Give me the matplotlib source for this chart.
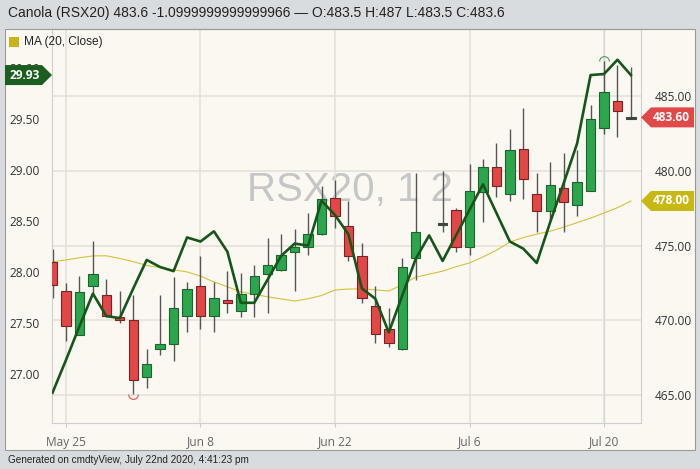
import numpy as np
import pandas as pd
import matplotlib
matplotlib.use("Agg")
import matplotlib.pyplot as plt
from matplotlib.patches import Rectangle, Polygon
from matplotlib.path import Path
from matplotlib.transforms import IdentityTransform

# trading days shown (weekdays), Jul 1 has no canola bar
days = pd.bdate_range("2020-05-22", "2020-07-22")
nan = np.nan

opens = [473.9, 472.0, 469.0, 472.3, 471.7, 470.2, 470.0, 466.2, 468.1, 468.4, 470.3,
         472.3, 470.3, 471.4, 470.6, 471.8, 473.1, 473.4, 474.6, 474.9, 475.8,
         478.2, 476.3, 474.3, 471.0, 469.4, 468.1, 474.2, nan, 476.4, 477.4,
         474.9, 478.6, 480.3, 478.5, 481.5, 478.5, 477.3, 478.9, 477.7, 478.7,
         482.9, 484.7, 483.5]
highs = [474.8, 472.5, 473.0, 475.3, 472.8, 472.0, 471.7, 468.1, 471.7, 472.9, 472.6,
         474.3, 472.6, 473.3, 473.2, 473.7, 475.5, 475.8, 476.1, 477.2, 479.0,
         479.4, 478.0, 475.2, 472.3, 470.8, 474.2, 479.9, nan, 480.0, 477.5,
         480.5, 480.8, 481.9, 482.8, 484.2, 479.9, 480.6, 481.2, 481.4, 484.4,
         487.4, 487.1, 487.0]
lows = [471.5, 468.6, 469.0, 471.8, 470.2, 469.8, 465.1, 465.5, 467.7, 467.3, 469.2,
        469.4, 469.2, 470.5, 470.2, 470.2, 470.5, 473.3, 472.0, 474.4, 475.7,
        476.2, 474.0, 471.2, 468.5, 468.2, 468.0, 472.7, nan, 475.9, 474.6,
        474.4, 476.6, 478.3, 478.0, 478.1, 475.9, 476.7, 475.9, 477.0, 478.7,
        482.5, 482.3, 483.5]
closes = [472.4, 469.6, 471.9, 473.1, 470.3, 470.0, 466.0, 467.1, 468.4, 470.8, 472.1,
          470.3, 471.5, 471.2, 471.8, 473.0, 473.7, 474.4, 474.9, 475.8, 478.1,
          477.0, 474.3, 471.5, 469.1, 468.5, 473.6, 475.9, nan, 476.4, 474.9,
          478.7, 480.3, 479.0, 481.4, 479.5, 477.3, 479.1, 477.9, 479.3, 483.5,
          485.3, 484.0, 483.6]
ma20 = [473.93, 474.05, 474.2, 474.32, 474.33, 474.15, 473.94, 473.68, 473.54, 473.39, 473.25,
        472.97, 472.58, 472.25, 471.92, 471.75, 471.58, 471.44, 471.3, 471.45, 471.67,
        472.04, 472.1, 472.12, 472.05, 471.97, 472.4, 472.9, nan, 473.3, 473.6,
        473.85, 474.25, 474.7, 475.25, 475.55, 475.78, 475.98, 476.25, 476.55, 476.85,
        477.2, 477.55, 478.0]
# left-axis series (dark green line)
left_line = [26.82, 27.14, 27.47, 27.79, 27.57, 27.55, 27.84, 28.12, 28.05, 28.01, 28.34,
             28.30, 28.40, 28.20, 27.70, 27.70, 27.93, 28.16, 28.28, 28.26, 28.70,
             28.56, 28.37, 27.84, 27.74, 27.41, 27.77, 28.13, 28.36, 28.11, 28.36,
             28.61, 28.86, 28.58, 28.30, 28.23, 28.09, 28.49, 28.87, 29.26, 29.93,
             29.94, 30.08, 29.93]

tick_dates = ["2020-05-25", "2020-06-08", "2020-06-22", "2020-07-06", "2020-07-20"]
tick_labels = ["May 25", "Jun 8", "Jun 22", "Jul 6", "Jul 20"]
title = "Canola (RSX20) 483.6 -1.0999999999999966 \u2014 O:483.5 H:487 L:483.5 C:483.6"
footer = "Generated on cmdtyView, July 22nd 2020, 4:41:23 pm"

o = np.array(opens); h = np.array(highs); l = np.array(lows); c = np.array(closes)
ma = np.array(ma20)
x = np.arange(len(days))

cream = "#fbf8f2"
fig = plt.figure(figsize=(7, 4.69), dpi=100, facecolor="#d9dcdf")
W, H = 700, 469
fig.patches.append(Rectangle((5 / W, 1 - 450 / H), 690 / W, 421 / H, transform=fig.transFigure,
                             facecolor=cream, edgecolor="#9a9a9a", lw=0.8, zorder=-1))

ax = fig.add_axes([52 / W, 1 - 423 / H, 589 / W, 394 / H])
ax.patch.set_visible(False)
ax.set_xlim(-0.04, 43.75)
ax.set_ylim(463.13, 489.52)

# candles (dojis drawn dark)
ok = ~np.isnan(o)
doji = ok & (np.abs(c - o) < 0.15)
up = ok & (c >= o) & ~doji
dn = ok & (c < o) & ~doji
ax.vlines(x[ok], l[ok], h[ok], color="#555555", lw=1.0, zorder=2)
body = np.maximum(np.abs(c - o), 0.1)
bot = np.minimum(o, c)
ax.bar(x[up], body[up], bottom=bot[up], width=0.7, color="#2ca64c", edgecolor="#1d6330", lw=0.8, zorder=3)
ax.bar(x[dn], body[dn], bottom=bot[dn], width=0.7, color="#e24646", edgecolor="#7c2222", lw=0.8, zorder=3)
ax.bar(x[doji], body[doji], bottom=bot[doji], width=0.7, color="#3c4a3e", edgecolor="#3c4a3e", lw=0.8, zorder=3)

mok = ~np.isnan(ma)
ax.plot(x[mok], ma[mok], color="#d6c13c", lw=0.8, zorder=1.8)

# highest high / lowest low markers
lo_i = np.nanargmin(l); hi_i = np.nanargmax(h)
ax.plot(x[lo_i], l[lo_i], marker=Path.arc(180, 360), ms=7, mfc="none", mec="#e05050", mew=0.8, zorder=3)
ax.plot(x[hi_i], h[hi_i], marker=Path.arc(0, 180), ms=7, mfc="none", mec="#4c9a5c", mew=0.8, zorder=3)

ax.text(0.506, 0.591, "RSX20, 1 2", transform=ax.transAxes, ha="center", va="center",
        fontsize=29, color="#c6c6c6", family="Liberation Sans", zorder=0.5)

pos = [list(days.strftime("%Y-%m-%d")).index(d) for d in tick_dates]
ax.set_xticks(pos)
ax.set_xticklabels(tick_labels, family="Open Sans")
ax.grid(color="#e3e0da", lw=1.1, zorder=0)
ax.axvline(pos[-1], color="#c2c2c2", lw=0.9, zorder=0.6)
for s in ["left", "right", "bottom"]:
    ax.spines[s].set_color("#cfcfcf")
ax.spines["top"].set_color("#9a9a9a")

ax2 = ax.twinx()
ax2.set_ylim(26.523, 30.381)
ax2.plot(x, left_line, color="#17561a", lw=1.9, zorder=4)
lt = [27.0, 27.5, 28.0, 28.5, 29.0, 29.5, 30.0]
ax2.set_yticks(lt)
ax2.set_yticklabels([f"{v:.2f}" for v in lt], family="Open Sans")
ax2.yaxis.tick_left()
ax2.tick_params(axis="y", length=0, pad=8.6, labelsize=8.6, labelcolor="#333333")
for s in ax2.spines.values():
    s.set_visible(False)

ax.yaxis.tick_right()
ax.set_yticks([465, 470, 475, 480, 485])
ax.set_yticklabels([f"{v:.2f}" for v in [465, 470, 475, 480, 485]], family="Open Sans")
ax.tick_params(axis="y", length=0, pad=10, labelsize=8.6, labelcolor="#333333")
ax.tick_params(axis="x", length=3, color="#cccccc", pad=6, labelsize=8.6, labelcolor="#666666")


def price_tag(val, trans, side, color, label):
    y = trans.transform((0, val))[1]
    bb = ax.bbox
    if side == "right":
        x0 = bb.x1
        pts = [(x0, y), (x0 + 10, y + 10), (x0 + 53, y + 10), (x0 + 53, y - 10), (x0 + 10, y - 10)]
        tx = x0 + 30
    else:
        x0 = bb.x0
        pts = [(x0, y), (x0 - 10, y + 10), (x0 - 47, y + 10), (x0 - 47, y - 10), (x0 - 10, y - 10)]
        tx = x0 - 27
    fig.add_artist(Polygon(pts, closed=True, transform=IdentityTransform(), fc=color, ec="none", zorder=5))
    fig.text(tx, y, label, transform=IdentityTransform(), ha="center", va="center", color="white",
             fontsize=8.6, fontweight="bold", family="Open Sans", zorder=6)


price_tag(c[-1], ax.transData, "right", "#e14848", f"{c[-1]:.2f}")
price_tag(ma[-1], ax.transData, "right", "#c8b814", f"{ma[-1]:.2f}")
price_tag(left_line[-1], ax2.transData, "left", "#1b5e20", f"{left_line[-1]:.2f}")

fig.text(8 / W, 1 - 13 / H, title, fontsize=10, family="Liberation Sans", va="center", color="#222222")
fig.patches.append(Rectangle((9 / W, 1 - 47 / H), 10 / W, 10 / H, transform=fig.transFigure,
                             facecolor="#c8b41a", edgecolor="none", zorder=3))
fig.text(24 / W, 1 - 42 / H, "MA (20, Close)", fontsize=8.6, family="Liberation Sans", va="center", color="#222222")
fig.text(8 / W, 1 - 460 / H, footer, fontsize=7.2, family="Liberation Sans", va="center", color="#222222")

fig.savefig("out.png", dpi=100, facecolor=fig.get_facecolor())
